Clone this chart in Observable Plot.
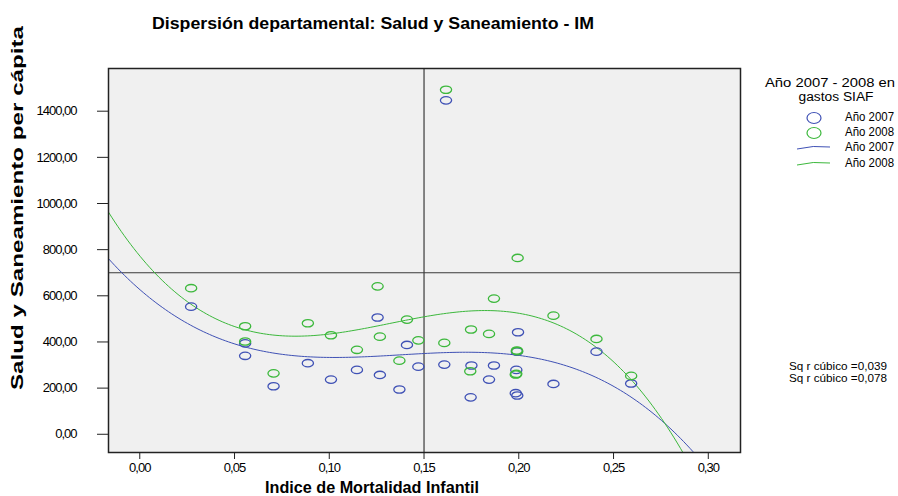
<!DOCTYPE html>
<html><head><meta charset="utf-8">
<script src="https://cdn.jsdelivr.net/npm/d3@7"></script>
<script src="https://cdn.jsdelivr.net/npm/@observablehq/plot@0.6"></script>
<style>body{margin:0;background:#fff}</style>
</head><body><div id="chart"></div>
<script>
// Índice de Mortalidad Infantil (x) vs gasto per cápita (y)
const x2007 = [0.0271,0.0556,0.0556,0.0706,0.0887,0.1009,0.1146,0.1255,0.1267,0.1370,0.1410,0.1470,0.1616,0.1996,0.1607,0.1750,0.1869,0.1987,0.1990,0.2410,0.1843,0.1746,0.1984,0.1992,0.2183,0.2593];
const y2007 = [553,394,340,208,308,237,279,506,257,194,387,293,1447,442,302,298,298,279,358,358,237,160,178,168,218,220];
const x2008 = [0.0271,0.0556,0.0556,0.0706,0.0887,0.1009,0.1146,0.1255,0.1267,0.1370,0.1410,0.1470,0.1616,0.1994,0.1869,0.2183,0.1748,0.1843,0.1607,0.2410,0.1990,0.1744,0.1984,0.2593,0.1992,0.1987];
const y2008 = [633,468,402,264,481,429,366,641,423,319,497,407,1493,764,588,514,454,435,396,413,363,273,259,253,360,262];
// cubic fit curves (x, y samples)
const fitX2007 = [-0.0165,-0.0098,0.0271,0.0556,0.0887,0.1009,0.1267,0.1535,0.1746,0.1993,0.2183,0.2410,0.2593,0.2735,0.2925];
const fitY2007 = [762,702,471,380,334,329,341,353,358,345,312,240,160,74,-79];
const fitX2008 = [-0.0165,0.0074,0.0271,0.0556,0.0706,0.0887,0.1009,0.1267,0.1410,0.1535,0.1816,0.1993,0.2183,0.2410,0.2593,0.2735,0.2855];
const fitY2008 = [957,702,568,464,438,422,429,464,496,510,532,522,478,384,269,81,-79];
const xTicks = [0,0.05,0.10,0.15,0.20,0.25,0.30];
const yTicks = [0,200,400,600,800,1000,1200,1400];
const refX = 0.15, refY = 700;
const r2Labels = ["Sq r cúbico =0,039","Sq r cúbico =0,078"];
const seriesNames = ["Año 2007","Año 2008"];
const colors = ["#3f51b5","#3cb83c"];

const pts07 = x2007.map((x,i)=>({x, y:y2007[i]}));
const pts08 = x2008.map((x,i)=>({x, y:y2008[i]}));

// cubic least squares through the read samples
function cubicFit(xs, ys){
  const A = Array.from({length:4},()=>Array(5).fill(0));
  xs.forEach((x,n)=>{
    const v=[1,x,x*x,x*x*x];
    for (let i=0;i<4;i++){ for(let j=0;j<4;j++) A[i][j]+=v[i]*v[j]; A[i][4]+=v[i]*ys[n]; }
  });
  for (let i=0;i<4;i++){
    let m=i; for(let k=i+1;k<4;k++) if(Math.abs(A[k][i])>Math.abs(A[m][i])) m=k;
    [A[i],A[m]]=[A[m],A[i]];
    for (let k=0;k<4;k++){ if(k===i) continue; const f=A[k][i]/A[i][i]; for(let j=i;j<5;j++) A[k][j]-=f*A[i][j]; }
  }
  const c=A.map((row,i)=>row[4]/row[i]);
  return x=>c[0]+c[1]*x+c[2]*x*x+c[3]*x*x*x;
}
const xDomain=[-0.0165,0.317];
const f07=cubicFit(fitX2007,fitY2007), f08=cubicFit(fitX2008,fitY2008);
const grid=d3.range(0,201).map(i=>xDomain[0]+(xDomain[1]-xDomain[0])*i/200);
const curve07=grid.map(x=>({x,y:f07(x)}));
const curve08=grid.map(x=>({x,y:f08(x)}));

const ellipse = {draw(ctx){const rx=5.6,ry=3.7,k=0.5523;
  ctx.moveTo(rx,0);
  ctx.bezierCurveTo(rx,ry*k,rx*k,ry,0,ry);
  ctx.bezierCurveTo(-rx*k,ry,-rx,ry*k,-rx,0);
  ctx.bezierCurveTo(-rx,-ry*k,-rx*k,-ry,0,-ry);
  ctx.bezierCurveTo(rx*k,-ry,rx,-ry*k,rx,0);
  ctx.closePath();}};
const fmt = d => d.toFixed(2).replace(".",",");

const svg = Plot.plot({
  width:898, height:496, marginLeft:108, marginRight:158, marginTop:68, marginBottom:44,
  style:{fontFamily:"'Liberation Sans', Arial, sans-serif", fontSize:"13px", background:"#fff", color:"#000"},
  x:{domain:xDomain},
  y:{domain:[-79,1585]},
  marks:[
    Plot.frame({fill:"#f0f0f0", stroke:null}),
    Plot.ruleY([refY],{stroke:"#3a3a3a", strokeWidth:1.2}),
    Plot.ruleX([refX],{stroke:"#3a3a3a", strokeWidth:1.2}),
    Plot.line(curve07,{x:"x",y:"y",stroke:colors[0],strokeWidth:1,clip:"frame"}),
    Plot.line(curve08,{x:"x",y:"y",stroke:colors[1],strokeWidth:1,clip:"frame"}),
    Plot.dot(pts07,{x:"x",y:"y",symbol:ellipse,stroke:colors[0],strokeWidth:1.3,fill:"none"}),
    Plot.dot(pts08,{x:"x",y:"y",symbol:ellipse,stroke:colors[1],strokeWidth:1.3,fill:"none"}),
    Plot.frame({stroke:"#222", strokeWidth:1.5}),
    Plot.axisX({ticks:xTicks, tickFormat:fmt, tickSize:7, tickPadding:3, label:null, stroke:"#222", fontSize:13}),
    Plot.axisY({ticks:yTicks, tickFormat:fmt, tickSize:11, tickPadding:21, label:null, stroke:"#222", fontSize:13})
  ]
});
document.getElementById("chart").append(svg);
const s = d3.select(svg);
s.selectAll("g[aria-label$='tick label'] text").attr("letter-spacing","-1px");

const T = (x,y,txt,o={}) => {
  const t = s.append("text").attr("x",x).attr("y",y).text(txt)
   .attr("font-family","'Liberation Sans', Arial, sans-serif")
   .attr("font-size",o.size||13).attr("text-anchor",o.anchor||"start")
   .attr("dominant-baseline","middle").attr("fill","#000")
   .attr("font-weight",o.weight||"normal");
  if (o.len) t.attr("textLength",o.len).attr("lengthAdjust","spacingAndGlyphs");
  if (o.ls) t.attr("letter-spacing",o.ls);
  if (o.rot) t.attr("transform",`rotate(-90,${x},${y})`);
  return t;
};
T(373,25,"Dispersión departamental: Salud y Saneamiento - IM",{size:16,weight:"bold",anchor:"middle",len:442});
T(372,489,"Indice de Mortalidad Infantil",{size:16,weight:"bold",anchor:"middle",len:214});
T(19,208,"Salud y Saneamiento per cápita",{size:17,weight:"bold",anchor:"middle",rot:true,len:364});
// legend
T(830,84,"Año 2007 - 2008 en",{size:12,anchor:"middle",len:130});
T(836,98,"gastos SIAF",{size:12,anchor:"middle",len:75});
const legY=[118,133,148,164];
seriesNames.forEach((n,i)=>{
  s.append("ellipse").attr("cx",814).attr("cy",legY[i]).attr("rx",7).attr("ry",5.5)
    .attr("fill","none").attr("stroke",colors[i]).attr("stroke-width",1.2);
  T(845,legY[i],n,{size:12,len:49});
});
seriesNames.forEach((n,i)=>{
  const yy=legY[i+2];
  s.append("path").attr("d",`M797,${yy+1} Q813,${yy-3} 830,${yy-1}`)
    .attr("fill","none").attr("stroke",colors[i]).attr("stroke-width",1);
  T(845,yy,n,{size:12,len:49});
});
r2Labels.forEach((t,i)=>T(789,367+i*12,t,{size:11,len:98}));
</script></body></html>
